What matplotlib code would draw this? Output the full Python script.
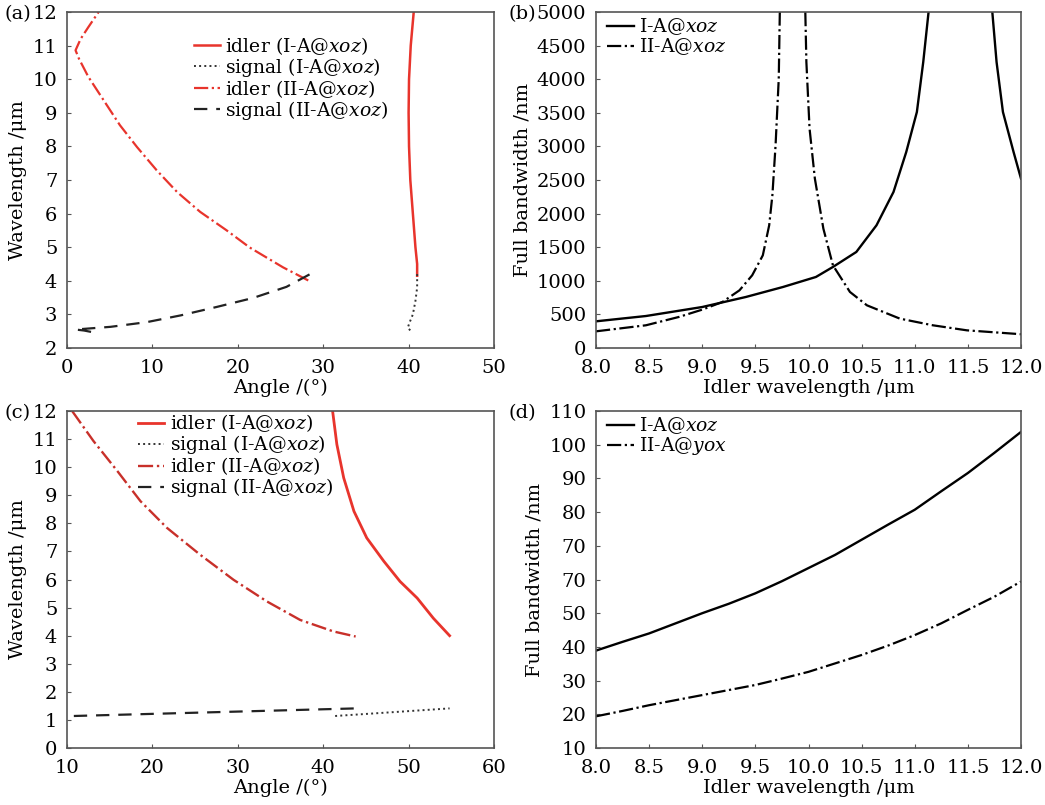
import numpy as np
import matplotlib.pyplot as plt

plt.rcParams['font.family'] = ['DejaVu Serif']
plt.rcParams['mathtext.fontset'] = 'dejavuserif'
plt.rcParams['font.size'] = 14

RED = '#e8342c'

# (a) phase matching curves, xoz plane
a_idler1_ang = [41.0, 41.0, 40.8, 40.5, 40.2, 40.05, 40.0, 40.05, 40.25, 40.6]
a_idler1_wl = [4.15, 4.5, 5.0, 6.0, 7.0, 8.0, 9.0, 10.0, 11.0, 12.0]
a_signal1_ang = [41.0, 41.0, 40.8, 40.5, 40.1, 39.9, 40.3]
a_signal1_wl = [4.2, 3.8, 3.4, 3.0, 2.75, 2.6, 2.5]
a_idler2_ang = [28.25, 25.3, 21.4, 18.7, 15.6, 12.9, 10.5, 8.2, 6.2, 4.3, 2.5, 1.4, 1.0, 1.6, 2.5, 3.7]
a_idler2_wl = [4.01, 4.4, 4.99, 5.5, 6.05, 6.64, 7.29, 7.98, 8.63, 9.37, 10.07, 10.61, 10.86, 11.2, 11.55, 12.0]
a_signal2_ang = [28.4, 25.7, 21.8, 17.5, 13.3, 9.35, 5.1, 1.0, 2.0, 3.0]
a_signal2_wl = [4.19, 3.82, 3.49, 3.22, 2.97, 2.77, 2.63, 2.55, 2.52, 2.47]

# (b) full bandwidth, xoz
b_x1a = [8.0, 8.47, 9.0, 9.41, 9.76, 10.07, 10.23, 10.45, 10.64, 10.8, 10.92, 11.02, 11.08, 11.13]
b_y1a = [397, 476, 610, 759, 908, 1057, 1206, 1429, 1826, 2322, 2917, 3512, 4256, 5000]
b_x1b = [11.73, 11.77, 11.83, 11.93, 12.0]
b_y1b = [5000, 4256, 3512, 2917, 2520]
b_x2a = [8.0, 8.47, 8.78, 9.0, 9.19, 9.35, 9.47, 9.57, 9.63, 9.66, 9.69, 9.72, 9.73]
b_y2a = [248, 338, 462, 571, 685, 858, 1082, 1379, 1826, 2272, 3016, 4008, 5000]
b_x2b = [9.97, 9.98, 10.01, 10.06, 10.14, 10.23, 10.39, 10.55, 10.86, 11.17, 11.49, 12.0]
b_y2b = [5000, 4256, 3264, 2520, 1776, 1230, 834, 635, 437, 338, 263, 205]

# (c) phase matching curves
c_idler1_ang = [41.1, 41.6, 42.4, 43.6, 45.1, 47.1, 49.0, 51.0, 52.9, 54.8]
c_idler1_wl = [12.0, 10.81, 9.62, 8.43, 7.48, 6.65, 5.93, 5.34, 4.62, 4.0]
c_signal1_ang = [41.4, 54.8]
c_signal1_wl = [1.14, 1.41]
c_idler2_ang = [10.6, 13.1, 15.9, 18.6, 21.7, 25.6, 29.5, 33.4, 37.3, 41.2, 43.8]
c_idler2_wl = [12.0, 10.93, 9.86, 8.79, 7.84, 6.88, 5.99, 5.22, 4.56, 4.15, 3.97]
c_signal2_ang = [10.8, 43.8]
c_signal2_wl = [1.14, 1.41]

# (d) full bandwidth
d_x = [8.0, 8.25, 8.5, 8.75, 9.0, 9.25, 9.5, 9.75, 10.0, 10.25, 10.5, 10.75, 11.0, 11.25, 11.5, 11.75, 12.0]
d_y1 = [38.9, 41.5, 44.0, 47.0, 50.0, 52.8, 55.9, 59.5, 63.4, 67.3, 71.8, 76.3, 80.7, 86.2, 91.6, 97.6, 103.8]
d_y2 = [19.4, 21.0, 22.7, 24.2, 25.7, 27.2, 28.7, 30.6, 32.6, 35.1, 37.6, 40.4, 43.5, 47.0, 51.0, 54.9, 59.4]
d_yticks = [10, 20, 30, 40, 50, 60, 70, 80, 90, 100, 110]
d_yticklabels = ['10', '20', '30', '40', '50', '70', '70', '80', '90', '100', '110']

fig = plt.figure(figsize=(10.45, 8.05), dpi=100)
W, H = 1045, 805


def make_ax(l, t, r, b):
    ax = fig.add_axes([l / W, 1 - b / H, (r - l) / W, (b - t) / H])
    for s in ax.spines.values():
        s.set_color('#555555')
        s.set_linewidth(1.2)
    ax.tick_params(direction='in', length=3, color='#555555')
    ax.tick_params(axis='x', pad=8)
    ax.tick_params(axis='y', pad=7)
    return ax


leg_kw = dict(frameon=False, handlelength=1.4, handletextpad=0.3,
              labelspacing=-0.05, borderaxespad=0.2, fontsize=13.5)

# ---- (a)
ax = make_ax(67, 12, 494, 348)
ax.plot(a_idler1_ang, a_idler1_wl, color=RED, lw=1.8, label='idler (I-A@$xoz$)')
ax.plot(a_signal1_ang, a_signal1_wl, color='#333333', lw=1.4, ls=':', label='signal (I-A@$xoz$)')
ax.plot(a_idler2_ang, a_idler2_wl, color=RED, lw=1.6, ls='-.', label='idler (II-A@$xoz$)')
ax.plot(a_signal2_ang, a_signal2_wl, color='#222222', lw=1.6, ls=(0, (6, 4)), label='signal (II-A@$xoz$)')
ax.set_xlim(0, 50)
ax.set_ylim(2, 12)
ax.set_xticks(range(0, 51, 10))
ax.set_yticks(range(2, 13))
ax.set_xlabel('Angle /(°)', labelpad=1)
ax.set_ylabel('Wavelength /μm', labelpad=4)
ax.legend(loc='upper left', bbox_to_anchor=(0.27, 0.965), **leg_kw)

# ---- (b)
ax = make_ax(596, 12, 1021, 348)
ax.plot(b_x1a, b_y1a, color='black', lw=1.7, label='I-A@$xoz$')
ax.plot(b_x1b, b_y1b, color='black', lw=1.7)
ax.plot(b_x2a, b_y2a, color='black', lw=1.6, ls='-.', label='II-A@$xoz$')
ax.plot(b_x2b, b_y2b, color='black', lw=1.6, ls='-.')
ax.set_xlim(8, 12)
ax.set_ylim(0, 5000)
ax.set_xticks(np.arange(8, 12.01, 0.5))
ax.set_xticklabels([f'{v:.1f}' for v in np.arange(8, 12.01, 0.5)])
ax.set_yticks(range(0, 5001, 500))
ax.set_xlabel('Idler wavelength /μm', labelpad=1)
ax.set_ylabel('Full bandwidth /nm', labelpad=4)
ax.legend(loc='upper left', bbox_to_anchor=(0.0, 1.02), **leg_kw)

# ---- (c)
ax = make_ax(67, 411, 494, 748)
ax.plot(c_idler1_ang, c_idler1_wl, color=RED, lw=2.0, label='idler (I-A@$xoz$)')
ax.plot(c_signal1_ang, c_signal1_wl, color='#333333', lw=1.4, ls=':', label='signal (I-A@$xoz$)')
ax.plot(c_idler2_ang, c_idler2_wl, color='#c8302a', lw=1.7, ls='-.', label='idler (II-A@$xoz$)')
ax.plot(c_signal2_ang, c_signal2_wl, color='#222222', lw=1.6, ls=(0, (6, 4)), label='signal (II-A@$xoz$)')
ax.set_xlim(10, 60)
ax.set_ylim(0, 12)
ax.set_xticks(range(10, 61, 10))
ax.set_yticks(range(0, 13))
ax.set_xlabel('Angle /(°)', labelpad=1)
ax.set_ylabel('Wavelength /μm', labelpad=4)
ax.legend(loc='upper left', bbox_to_anchor=(0.14, 1.03), **leg_kw)

# ---- (d)
ax = make_ax(596, 411, 1021, 748)
ax.plot(d_x, d_y1, color='black', lw=1.7, label='I-A@$xoz$')
ax.plot(d_x, d_y2, color='black', lw=1.6, ls='-.', label='II-A@$yox$')
ax.set_xlim(8, 12)
ax.set_ylim(10, 110)
ax.set_xticks(np.arange(8, 12.01, 0.5))
ax.set_xticklabels([f'{v:.1f}' for v in np.arange(8, 12.01, 0.5)])
ax.set_yticks(d_yticks)
ax.set_yticklabels(d_yticklabels)
ax.set_xlabel('Idler wavelength /μm', labelpad=1)
ax.set_ylabel('Full bandwidth /nm', labelpad=4)
ax.legend(loc='upper left', bbox_to_anchor=(0.0, 1.02), **leg_kw)

fig.text(5 / W, 1 - 14 / H, '(a)', va='center', ha='left')
fig.text(508 / W, 1 - 14 / H, '(b)', va='center', ha='left')
fig.text(5 / W, 1 - 413 / H, '(c)', va='center', ha='left')
fig.text(508 / W, 1 - 413 / H, '(d)', va='center', ha='left')

fig.savefig('out.png', dpi=100)
